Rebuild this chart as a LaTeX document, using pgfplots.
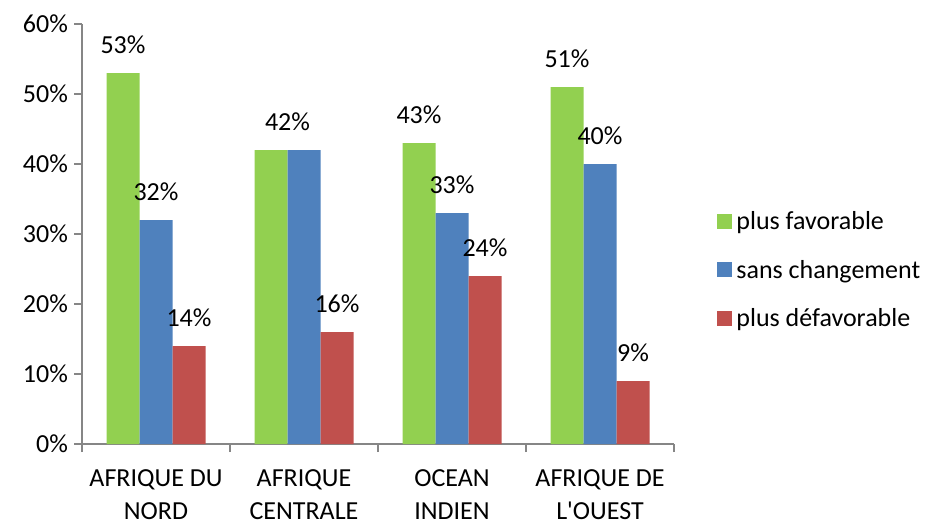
\documentclass[border=0pt]{standalone}
\usepackage{fontspec}
\setmainfont{Carlito}[Ligatures=TeXOff]
\usepackage{pgfplots}
\pgfplotsset{compat=1.18}
\definecolor{cgreen}{RGB}{146,208,80}
\definecolor{cblue}{RGB}{79,129,189}
\definecolor{cred}{RGB}{192,80,77}
\definecolor{axgray}{RGB}{134,134,134}
\begin{document}
\fontsize{13}{16}\selectfont
\begin{tikzpicture}
\useasboundingbox (-41pt,-38pt) rectangle (424pt,222pt);
\begin{axis}[
  scale only axis,
  width=296pt, height=210pt,
  ybar=0pt, bar width=16.5pt,
  xmin=-0.5, xmax=3.5, ymin=0, ymax=60,
  axis lines=left,
  axis line style={-, draw=axgray, line width=0.8pt},
  tick style={draw=axgray, line width=0.8pt},
  tick align=outside,
  xtick={0,1,2,3},
  major x tick style={draw=none},
  minor xtick={-0.5,0.5,1.5,2.5,3.5},
  minor tick length=4pt,
  major tick length=4pt,
  xticklabels={AFRIQUE DU\\NORD, AFRIQUE\\CENTRALE, OCEAN\\INDIEN, AFRIQUE DE\\L'OUEST},
  x tick label style={align=center, yshift=-4.5pt, font=\fontsize{13}{16.5}\selectfont},
  y tick label style={xshift=1.5pt},
  ytick={0,10,20,30,40,50,60},
  yticklabels={0\%,10\%,20\%,30\%,40\%,50\%,60\%},
  nodes near coords,
  point meta=explicit symbolic,
  every node near coord/.append style={anchor=south, inner sep=0pt, yshift=9.5pt, text=black},
  legend cell align=left,
  legend style={draw=none, at={(1,0.412)}, anchor=west, xshift=21.5pt,
    inner sep=0pt, row sep=9.3pt},
  legend image code/.code={\fill[#1] (0pt,-3.1pt) rectangle (7.5pt,4.4pt);},
]
\addplot[fill=cgreen, draw=none] coordinates {(0,53) [53\%] (1,42) [{}] (2,43) [43\%] (3,51) [51\%]};
\addlegendentry{plus favorable}
\addplot[fill=cblue, draw=none] coordinates {(0,32) [32\%] (1,42) [{}] (2,33) [33\%] (3,40) [40\%]};
\addlegendentry{sans changement}
\addplot[fill=cred, draw=none] coordinates {(0,14) [14\%] (1,16) [16\%] (2,24) [24\%] (3,9) [9\%]};
\addlegendentry{plus défavorable}
\addplot[fill=none, draw=none, bar shift=-8.25pt, forget plot] coordinates {(1,42) [42\%]};
\end{axis}
\end{tikzpicture}
\end{document}
